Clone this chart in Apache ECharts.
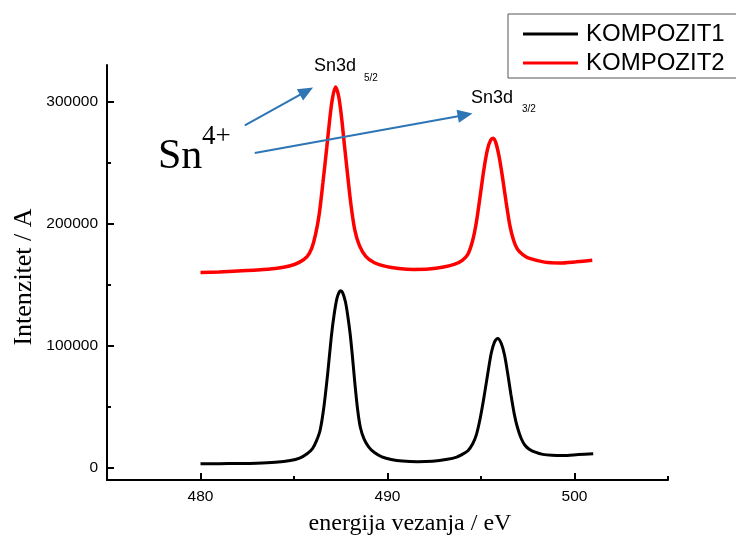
<!DOCTYPE html>
<html>
<head>
<meta charset="utf-8">
<script src="https://cdn.jsdelivr.net/npm/echarts@6/dist/echarts.min.js"></script>
<style>html,body{margin:0;padding:0;background:#fff;}#c{width:736px;height:536px;}</style>
</head>
<body>
<div id="c"></div>
<script>
// ---- data ----
const seriesNames = ['KOMPOZIT1', 'KOMPOZIT2'];
const energy1 = [480.0, 481.0, 482.0, 483.0, 484.0, 484.8, 485.3, 485.7, 486.0, 486.2, 486.4, 486.6, 486.8, 487.0, 487.15, 487.3, 487.42, 487.5, 487.6, 487.75, 487.88, 488.0, 488.12, 488.25, 488.4, 488.55, 488.75, 489.0, 489.3, 489.7, 490.2, 490.8, 491.6, 492.4, 493.2, 493.7, 494.0, 494.3, 494.55, 494.75, 494.95, 495.15, 495.35, 495.55, 495.72, 495.9, 496.08, 496.25, 496.42, 496.6, 496.78, 496.95, 497.15, 497.35, 497.6, 497.9, 498.3, 498.8, 499.4, 500.2, 501.0];
const kompozit1 = [3300, 3400, 3500, 3800, 4600, 6000, 8000, 11500, 16000, 22000, 31000, 50000, 77000, 108000, 126000, 139000, 144000, 145000, 143500, 136000, 124000, 110000, 92000, 70000, 48000, 33000, 23500, 17000, 12500, 9000, 6800, 5500, 5000, 5400, 7000, 8800, 11000, 14000, 19500, 27000, 40000, 57000, 76000, 94000, 103000, 106000, 102000, 93000, 78000, 60000, 44000, 33000, 24000, 18500, 15000, 12800, 11000, 10200, 10000, 10800, 11500];
const energy2 = [480.0, 481.0, 482.0, 483.0, 484.0, 484.8, 485.3, 485.7, 485.95, 486.15, 486.35, 486.55, 486.75, 486.9, 487.05, 487.22, 487.38, 487.52, 487.7, 487.88, 488.05, 488.25, 488.5, 488.85, 489.3, 489.9, 490.6, 491.4, 492.2, 493.0, 493.6, 494.0, 494.3, 494.55, 494.75, 494.95, 495.15, 495.35, 495.52, 495.65, 495.8, 495.98, 496.15, 496.34, 496.55, 496.75, 496.95, 497.25, 497.6, 498.4, 499.2, 500.1, 500.95];
const kompozit2 = [160000, 160500, 161200, 162000, 163300, 165500, 168500, 173000, 180000, 191000, 208000, 234000, 262000, 284000, 302000, 312000, 305000, 290000, 264000, 238000, 215000, 195000, 182000, 173000, 168000, 165000, 163300, 162500, 162800, 164500, 166800, 170000, 175000, 186000, 201000, 222000, 244000, 261000, 268500, 270000, 266000, 254000, 238000, 218000, 198000, 186000, 179000, 174500, 171500, 168500, 167800, 168800, 170000];
const xMajorTicks = [480, 490, 500];
const xMinorTicks = [485, 495, 505];
const yMajorTicks = [0, 100000, 200000, 300000];
const yMinorTicks = [50000, 150000, 250000];
// annotation arrows in data coordinates: [startX, startY, endX, endY]
const arrows = [[482.37, 280600, 485.67, 308500], [482.90, 257900, 494.15, 289100]];

const sans = "'Liberation Sans', Arial, sans-serif";
const serif = "'Liberation Serif', 'Times New Roman', serif";

const chart = echarts.init(document.getElementById('c'), null, {renderer: 'canvas'});

const axisBase = {
  type: 'value', min: 475, max: 505, interval: 5,
  splitLine: {show: false}
};
const yBase = {
  type: 'value', min: -10000, max: 330000, interval: 10000,
  splitLine: {show: false}
};

const option = {
  animation: false,
  backgroundColor: '#fff',
  grid: {left: 107, right: 68, top: 65, bottom: 56, containLabel: false},
  legend: {
    orient: 'vertical', left: 508, top: 14,
    padding: [8, 15, 3, 15], itemGap: 5,
    itemWidth: 55, itemHeight: 3, icon: 'rect',
    borderColor: '#555', borderWidth: 1,
    textStyle: {fontFamily: sans, fontSize: 24, color: '#000', padding: [0, 0, 0, 3]},
    data: seriesNames
  },
  xAxis: [
    Object.assign({}, axisBase, {
      position: 'bottom',
      axisLine: {show: true, onZero: false, lineStyle: {color: '#000', width: 2}},
      axisTick: {show: true, inside: true, length: 7, lineStyle: {color: '#000', width: 2}, customValues: xMajorTicks},
      axisLabel: {show: true, customValues: xMajorTicks, fontFamily: sans, fontSize: 15.5, color: '#000', margin: 9}
    }),
    Object.assign({}, axisBase, {
      position: 'bottom',
      axisLine: {show: false, onZero: false},
      axisTick: {show: true, inside: true, length: 4, lineStyle: {color: '#000', width: 2}, customValues: xMinorTicks},
      axisLabel: {show: false}
    })
  ],
  yAxis: [
    Object.assign({}, yBase, {
      position: 'left',
      axisLine: {show: true, onZero: false, lineStyle: {color: '#000', width: 2}},
      axisTick: {show: true, inside: true, length: 7, lineStyle: {color: '#000', width: 2}, customValues: yMajorTicks},
      axisLabel: {show: true, customValues: yMajorTicks, formatter: v => String(v), fontFamily: sans, fontSize: 15.5, color: '#000', margin: 9}
    }),
    Object.assign({}, yBase, {
      position: 'left', offset: 0,
      axisLine: {show: false, onZero: false},
      axisTick: {show: true, inside: true, length: 4, lineStyle: {color: '#000', width: 2}, customValues: yMinorTicks},
      axisLabel: {show: false}
    })
  ],
  series: [
    {
      name: seriesNames[0], type: 'line', xAxisIndex: 0, yAxisIndex: 0,
      showSymbol: false, symbol: 'none', smooth: 0.3,
      color: '#000', lineStyle: {color: '#000', width: 3},
      data: energy1.map((x, i) => [x, kompozit1[i]]),
      z: 3
    },
    {
      name: seriesNames[1], type: 'line', xAxisIndex: 0, yAxisIndex: 0,
      showSymbol: false, symbol: 'none', smooth: 0.3,
      color: '#ff0000', lineStyle: {color: '#ff0000', width: 3.5},
      data: energy2.map((x, i) => [x, kompozit2[i]]),
      z: 4,
      markLine: {
        silent: true, animation: false,
        symbol: ['none', 'triangle'], symbolSize: [13, 15],
        label: {show: false},
        lineStyle: {color: '#2E75B6', width: 2, type: 'solid'},
        emphasis: {disabled: true},
        data: arrows.map(a => [{coord: [a[0], a[1]]}, {coord: [a[2], a[3]]}])
      }
    }
  ],
  graphic: [
    {type: 'text', left: 314, top: 57, style: {text: 'Sn3d', font: '18px ' + sans, fill: '#000'}},
    {type: 'text', left: 364, top: 73, style: {text: '5/2', font: '10px ' + sans, fill: '#000'}},
    {type: 'text', left: 471, top: 89, style: {text: 'Sn3d', font: '18px ' + sans, fill: '#000'}},
    {type: 'text', left: 522, top: 104, style: {text: '3/2', font: '10px ' + sans, fill: '#000'}},
    {type: 'text', left: 158, top: 136, style: {text: 'Sn', font: '42px ' + serif, fill: '#000'}},
    {type: 'text', left: 202, top: 123, style: {text: '4+', font: '27px ' + serif, fill: '#000'}},
    {type: 'text', x: 24, y: 277, rotation: Math.PI / 2,
     style: {text: 'Intenzitet / A', font: '26px ' + serif, fill: '#000', align: 'center', verticalAlign: 'middle'}},
    {type: 'text', x: 410, y: 524,
     style: {text: 'energija vezanja / eV', font: '24px ' + serif, fill: '#000', align: 'center', verticalAlign: 'middle'}}
  ]
};
chart.setOption(option);
</script>
</body>
</html>
